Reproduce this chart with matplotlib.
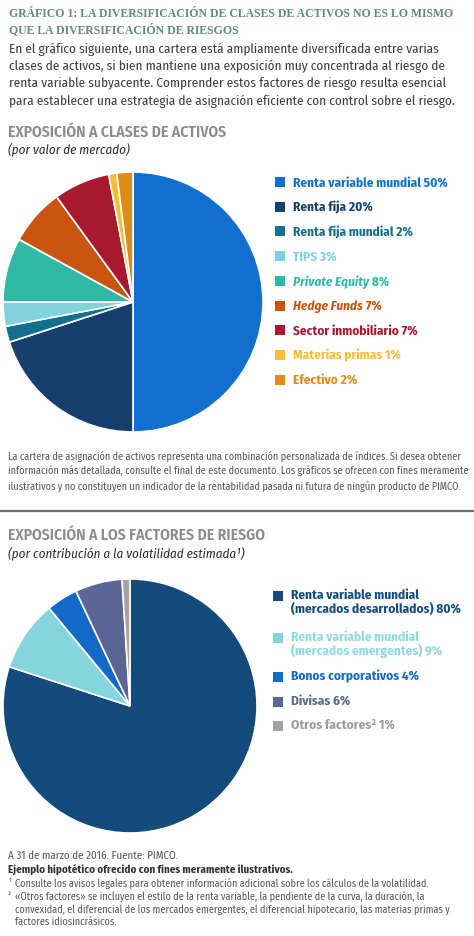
import matplotlib
matplotlib.use("Agg")
import matplotlib.pyplot as plt
from matplotlib import font_manager
from matplotlib.patches import Rectangle
from matplotlib.lines import Line2D

W, H = 474, 937

# --- data -------------------------------------------------------------
title_lines = [
    "GRÁFICO 1: LA DIVERSIFICACIÓN DE CLASES DE ACTIVOS NO ES LO MISMO",
    "QUE LA DIVERSIFICACIÓN DE RIESGOS",
]
intro_lines = [
    "En el gráfico siguiente, una cartera está ampliamente diversificada entre varias",
    "clases de activos, si bien mantiene una exposición muy concentrada al riesgo de",
    "renta variable subyacente. Comprender estos factores de riesgo resulta esencial",
    "para establecer una estrategia de asignación eficiente con control sobre el riesgo.",
]

asset_title = "EXPOSICIÓN A CLASES DE ACTIVOS"
asset_subtitle = "(por valor de mercado)"
asset_names = ["Renta variable mundial", "Renta fija", "Renta fija mundial", "TIPS",
               "Private Equity", "Hedge Funds", "Sector inmobiliario",
               "Materias primas", "Efectivo"]
asset_values = [50, 20, 2, 3, 8, 7, 7, 1, 2]
asset_colors = ["#1170cf", "#163f6e", "#136f8e", "#80d2dc", "#30b9a4",
                "#c85410", "#a8182e", "#f9bd30", "#e18b16"]
asset_italic = ["Private Equity", "Hedge Funds"]
asset_note = [
    "La cartera de asignación de activos representa una combinación personalizada de índices. Si desea obtener",
    "información más detallada, consulte el final de este documento. Los gráficos se ofrecen con fines meramente",
    "ilustrativos y no constituyen un indicador de la rentabilidad pasada ni futura de ningún producto de PIMCO.",
]

risk_title = "EXPOSICIÓN A LOS FACTORES DE RIESGO"
risk_subtitle = "(por contribución a la volatilidad estimada¹)"
risk_names = ["Renta variable mundial\n(mercados desarrollados)",
              "Renta variable mundial\n(mercados emergentes)",
              "Bonos corporativos", "Divisas", "Otros factores²"]
risk_values = [80, 9, 4, 6, 1]
risk_colors = ["#144b7d", "#84d6dc", "#1269c8", "#5b6596", "#a3a3a3"]
risk_text_colors = ["#144b7d", "#8fd9de", "#1269c8", "#5b6596", "#9a9a9a"]

footer_source = "A 31 de marzo de 2016. Fuente: PIMCO."
footer_bold = "Ejemplo hipotético ofrecido con fines meramente ilustrativos."
footer_notes = [
    ("¹", "Consulte los avisos legales para obtener información adicional sobre los cálculos de la volatilidad."),
    ("²", "«Otros factores» se incluyen el estilo de la renta variable, la pendiente de la curva, la duración, la"),
    ("", "convexidad, el diferencial de los mercados emergentes, el diferencial hipotecario, las materias primas y"),
    ("", "factores idiosincrásicos."),
]

# --- fonts ------------------------------------------------------------
installed = {f.name for f in font_manager.fontManager.ttflist}
COND = next((f for f in ["Fira Sans Condensed", "Roboto Condensed", "PT Sans Narrow"]
             if f in installed), "Liberation Sans")
SERIF = "Liberation Serif"

fig = plt.figure(figsize=(W / 100, H / 100), dpi=100)
fig.patch.set_facecolor("white")
renderer = fig.canvas.get_renderer()


def put(x, y, s, **kw):
    kw.setdefault("va", "center")
    kw.setdefault("ha", "left")
    return fig.text(x / W, 1 - y / H, s, **kw)


def text_width(s, size, **kw):
    t = fig.text(0, 0, s, fontsize=size, **kw)
    w = t.get_window_extent(renderer).width
    t.remove()
    return w


def fit(s, target, **kw):
    return 10 * target / text_width(s, 10, **kw)


def square(x, y, color, size=10):
    fig.add_artist(Rectangle((x / W, 1 - (y + size / 2) / H), size / W, size / H,
                             transform=fig.transFigure, color=color, lw=0))


def pie_axes(cx, cy, r, values, colors):
    ax = fig.add_axes([(cx - r) / W, 1 - (cy + r) / H, 2 * r / W, 2 * r / H])
    ax.pie(values, colors=colors, startangle=90, counterclock=False, radius=1,
           wedgeprops=dict(edgecolor="white", linewidth=1.2))
    ax.set_xlim(-1, 1)
    ax.set_ylim(-1, 1)
    ax.axis("off")
    return ax


# --- header -----------------------------------------------------------
title_kw = dict(family=SERIF, weight="bold", color="#5e8c74")
ts = fit(title_lines[0], 445, **title_kw)
for y, line in zip([14, 30], title_lines):
    put(9, y, line, fontsize=ts, **title_kw)

body_kw = dict(family=COND, color="#3c3c3c")
bs = fit(intro_lines[3], 445, **body_kw)
for y, line in zip([49, 66, 84, 101], intro_lines):
    put(9, y, line, fontsize=bs, **body_kw)

# --- asset class section ----------------------------------------------
head_kw = dict(family=COND, weight="semibold", color="#8c8c8c")
hs = fit(asset_title, 220, **head_kw)
put(8, 132, asset_title, fontsize=hs, **head_kw)
sub_kw = dict(family=COND, style="italic", color="#2a2a2a")
ss = fit(asset_subtitle, 122, **sub_kw)
put(8, 149, asset_subtitle, fontsize=ss, **sub_kw)

pie_axes(133, 303, 130, asset_values, asset_colors)

leg_kw = dict(family=COND, weight="bold")
ls = fit("Renta variable mundial 50%", 155, **leg_kw)
for i, (name, val, col) in enumerate(zip(asset_names, asset_values, asset_colors)):
    y = 183 + i * 24.7
    square(275, y, col)
    if name in asset_italic:
        t = put(293, y, name, fontsize=ls, color=col, style="italic", **leg_kw)
        w = t.get_window_extent(renderer).width
        put(293 + w, y, f" {val}%", fontsize=ls, color=col, **leg_kw)
    else:
        put(293, y, f"{name} {val}%", fontsize=ls, color=col, **leg_kw)

note_kw = dict(family=COND, color="#555555")
ns = fit(asset_note[1], 457, **note_kw)
for y, line in zip([456, 471, 486], asset_note):
    put(8, y, line, fontsize=ns, **note_kw)

fig.add_artist(Line2D([0, 1], [1 - 512 / H] * 2, transform=fig.transFigure,
                      color="#6e6e6e", lw=1.6))

# --- risk factor section ----------------------------------------------
rs = fit(risk_title, 258, **head_kw)
put(8, 535, risk_title, fontsize=rs, **head_kw)
put(8, 553, risk_subtitle, fontsize=ss, **sub_kw)

pie_axes(130, 707, 127, risk_values, risk_colors)

rows = [597, 639, 678, 703, 727]
for name, val, col, tcol, y in zip(risk_names, risk_values, risk_colors,
                                   risk_text_colors, rows):
    square(273, y, col)
    put(291, y - 8, f"{name} {val}%", fontsize=ls, color=tcol, va="top",
        linespacing=1.1, **leg_kw)

# --- footer -----------------------------------------------------------
fs = fit(footer_notes[2][1], 431, **note_kw)
put(8, 856, footer_source, fontsize=fs * 1.08, **note_kw)
put(8, 869, footer_bold, fontsize=fs * 1.08, family=COND, weight="bold", color="#333333")
for y, (mark, line) in zip([884, 897, 910, 922], footer_notes):
    if mark:
        put(8, y - 2, mark, fontsize=fs * 0.8, **note_kw)
    put(15, y, line, fontsize=fs, **note_kw)

fig.savefig("out.png", dpi=100, facecolor="white")
